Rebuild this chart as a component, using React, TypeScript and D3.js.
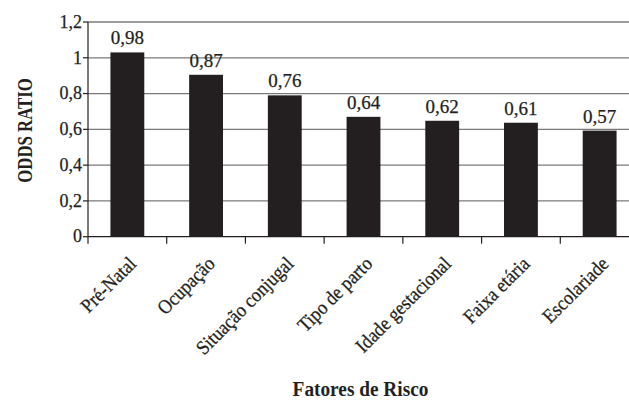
import React from 'react'
import * as d3 from 'd3'

const categories = [
  'Pré-Natal',
  'Ocupação',
  'Situação conjugal',
  'Tipo de parto',
  'Idade gestacional',
  'Faixa etária',
  'Escolariade',
]
// bar heights as drawn (they stand a bit above the printed labels)
const barValues = [1.03, 0.905, 0.79, 0.67, 0.648, 0.637, 0.593]
const valueLabels = ['0,98', '0,87', '0,76', '0,64', '0,62', '0,61', '0,57']
const yTicks = [0, 0.2, 0.4, 0.6, 0.8, 1, 1.2]

const yLabel = 'ODDS RATIO'
const xLabel = 'Fatores de Risco'

const width = 629
const height = 401
const margin = { top: 22, left: 88, bottom: 164 }
const plotRight = 639 // plot runs past the crop on the right

const font = '"Liberation Serif", "Times New Roman", serif'
const ink = '#231f20'
const br = d3.formatLocale({
  decimal: ',',
  thousands: '.',
  grouping: [3],
  currency: ['', ''],
})
const fmt = br.format('~g')

const App: React.FC = () => {
  const x = d3
    .scaleBand()
    .domain(categories)
    .range([margin.left, plotRight])
    .paddingInner(0.57)
    .paddingOuter(0.285)

  const y = d3
    .scaleLinear()
    .domain([0, 1.2])
    .range([height - margin.bottom - 0.3, margin.top])

  const step = x.step()
  const y0 = y(0)
  const mid = (c: string) => (x(c) ?? 0) + x.bandwidth() / 2

  return (
    <svg
      width={width}
      height={height}
      viewBox={`0 0 ${width} ${height}`}
      style={{ position: 'absolute', left: 0, top: 0, background: '#fff' }}
      fontFamily={font}
    >
      {/* gridlines */}
      <g stroke="#7a7a7a" strokeWidth={1.3}>
        {yTicks
          .filter(t => t > 0)
          .map(t => (
            <line key={t} x1={margin.left} x2={plotRight} y1={y(t)} y2={y(t)} />
          ))}
      </g>

      {/* bars */}
      <g fill={ink}>
        {categories.map((c, i) => (
          <rect
            key={c}
            x={x(c)}
            y={y(barValues[i])}
            width={x.bandwidth()}
            height={y0 - y(barValues[i])}
          />
        ))}
      </g>

      {/* value labels */}
      <g fontSize={19} textAnchor="middle" fill={ink} stroke={ink} strokeWidth={0.25}>
        {categories.map((c, i) => (
          <text key={c} x={mid(c)} y={y(barValues[i]) - 8}>
            {valueLabels[i]}
          </text>
        ))}
      </g>

      {/* y axis */}
      <g stroke={ink} strokeWidth={1.2}>
        <line x1={margin.left} x2={margin.left} y1={y(1.2)} y2={y0} />
        {yTicks.map(t => (
          <line key={t} x1={margin.left - 5} x2={margin.left} y1={y(t)} y2={y(t)} />
        ))}
      </g>
      <g fontSize={18} textAnchor="end" fill={ink} stroke={ink} strokeWidth={0.25}>
        {yTicks.map(t => (
          <text key={t} x={margin.left - 6} y={y(t)} dy="0.32em">
            {fmt(t)}
          </text>
        ))}
      </g>

      {/* x axis */}
      <g stroke={ink} strokeWidth={1.2}>
        <line x1={margin.left} x2={plotRight} y1={y0} y2={y0} />
        {categories.map((c, i) => (
          <line
            key={c}
            x1={margin.left + i * step}
            x2={margin.left + i * step}
            y1={y0}
            y2={y0 + 7}
          />
        ))}
      </g>
      <g fontSize={20} textAnchor="end" fill={ink} stroke={ink} strokeWidth={0.3}>
        {categories.map(c => (
          <text
            key={c}
            transform={`translate(${mid(c) + 10},265) rotate(-45) scale(0.9,1)`}
          >
            {c}
          </text>
        ))}
      </g>

      {/* axis titles */}
      <text
        transform={`translate(32,130.5) rotate(-90) scale(0.8,1)`}
        textAnchor="middle"
        fontSize={21}
        fontWeight="bold"
        fill={ink}
      >
        {yLabel}
      </text>
      <text
        transform={`translate(${(margin.left + plotRight) / 2 - 3},396) scale(0.92,1)`}
        textAnchor="middle"
        fontSize={21}
        fontWeight="bold"
        fill={ink}
      >
        {xLabel}
      </text>
    </svg>
  )
}

export default App
